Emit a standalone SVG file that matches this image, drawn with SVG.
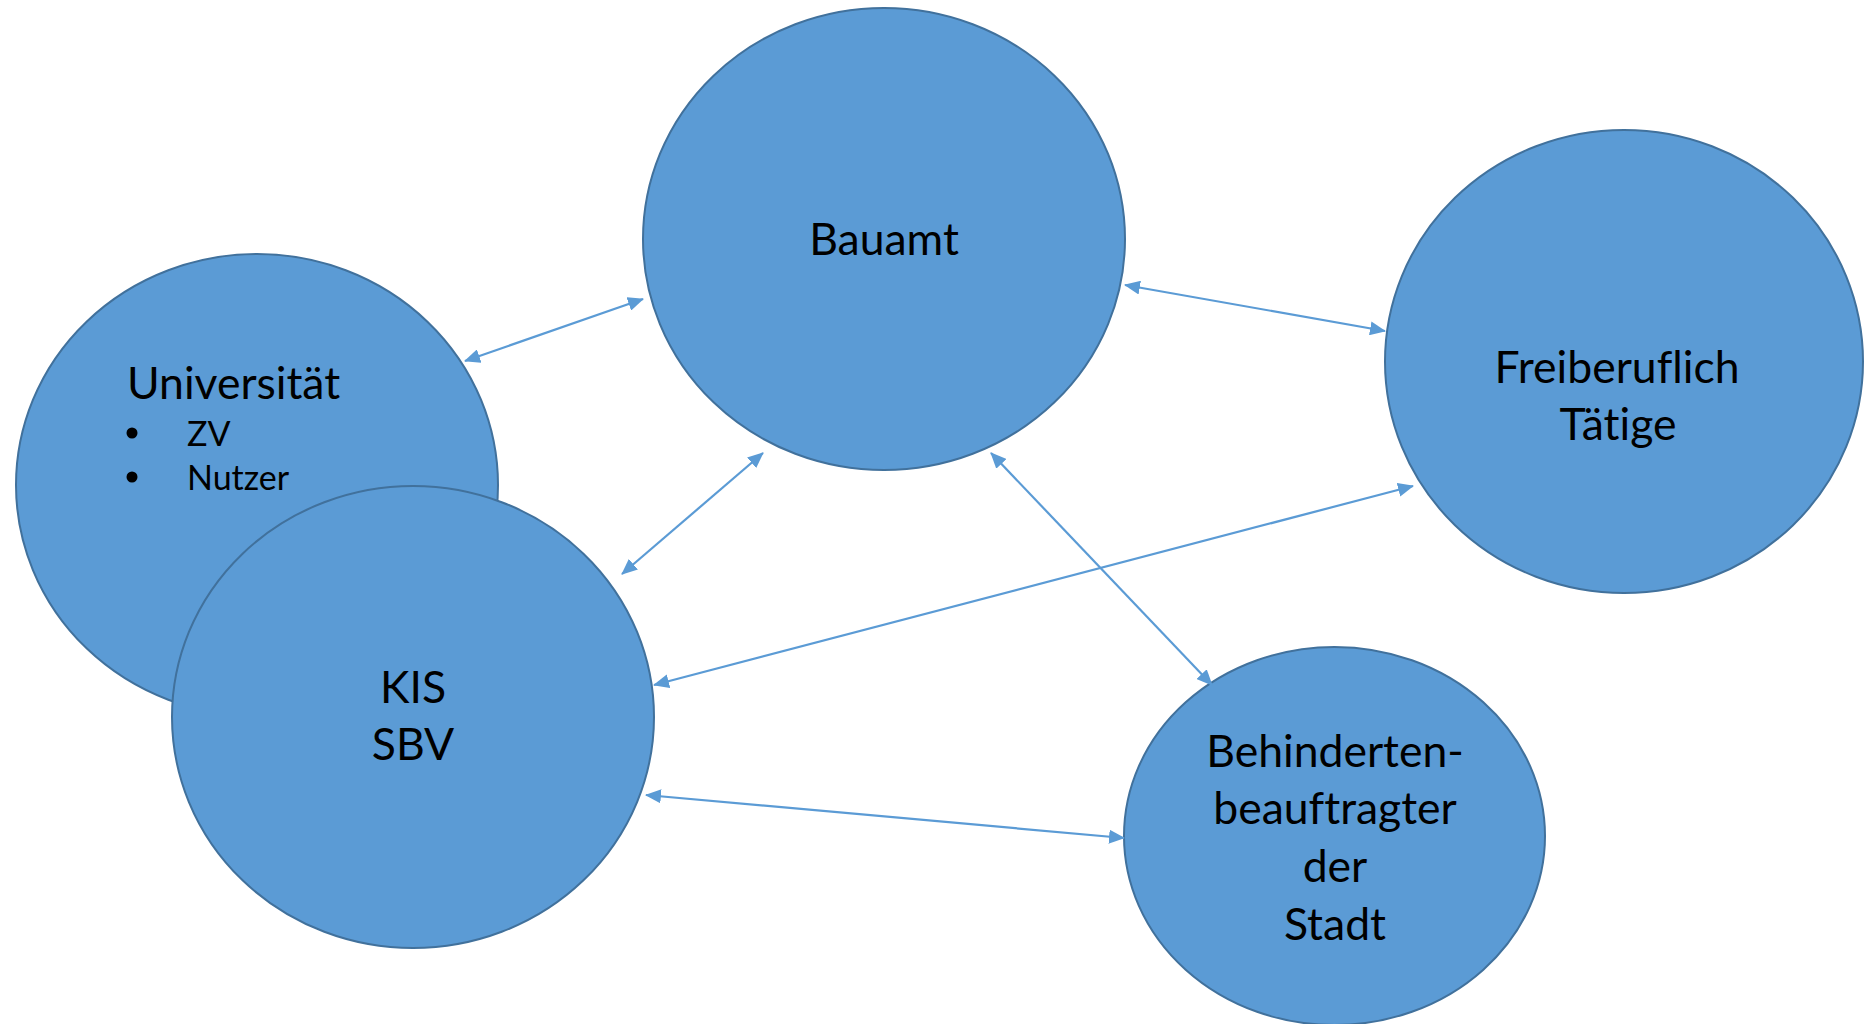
<svg xmlns="http://www.w3.org/2000/svg" width="1864" height="1024" viewBox="0 0 1864 1024">
<style>
.node{fill:#5B9BD5;stroke:#41719C;stroke-width:2}
.lbl{font-family:Lato,"Liberation Sans",sans-serif;font-size:44.5px;fill:#000;text-anchor:middle;font-variant-ligatures:none}
.sub{font-family:Lato,"Liberation Sans",sans-serif;font-size:34px;fill:#000;font-variant-ligatures:none}
.conn{stroke:#5B9BD5;stroke-width:2.2;fill:none;marker-start:url(#arr);marker-end:url(#arr)}
</style>
<defs>
<marker id="arr" viewBox="0 0 16 14" refX="15" refY="7" markerWidth="16" markerHeight="14" markerUnits="userSpaceOnUse" orient="auto-start-reverse">
<path d="M0,0 L16,7 L0,14 z" fill="#5B9BD5"/>
</marker>
</defs>
<rect width="1864" height="1024" fill="#fff"/>
<g id="bauamt">
<ellipse class="node" cx="884" cy="239" rx="241" ry="231"/>
<text class="lbl" x="884" y="255">Bauamt</text>
</g>
<g id="universitaet">
<ellipse class="node" cx="257" cy="485" rx="241" ry="231"/>
<text class="lbl" x="127" y="399" style="text-anchor:start">Universität</text>
<circle cx="132" cy="433" r="5.5" fill="#000"/>
<circle cx="132" cy="477" r="5.5" fill="#000"/>
<text class="sub" x="187" y="446">ZV</text>
<text class="sub" x="187" y="490">Nutzer</text>
</g>
<g id="kis">
<ellipse class="node" cx="413" cy="717" rx="241" ry="231"/>
<text class="lbl" x="413" y="703">KIS</text>
<text class="lbl" x="413" y="760">SBV</text>
</g>
<g id="freiberuflich">
<ellipse class="node" cx="1624" cy="361.5" rx="239" ry="231.5"/>
<text class="lbl" x="1617" y="383">Freiberuflich</text>
<text class="lbl" x="1618" y="440">Tätige</text>
</g>
<g id="behinderten">
<ellipse class="node" cx="1334.5" cy="836" rx="210.5" ry="189"/>
<text class="lbl" x="1335" y="767">Behinderten-</text>
<text class="lbl" x="1335" y="824">beauftragter</text>
<text class="lbl" x="1335" y="882">der</text>
<text class="lbl" x="1335" y="940">Stadt</text>
</g>
<g id="connectors">
<line class="conn" x1="465" y1="361" x2="643" y2="299"/>
<line class="conn" x1="1125" y1="285" x2="1385" y2="331"/>
<line class="conn" x1="622" y1="574" x2="763" y2="453"/>
<line class="conn" x1="991" y1="453" x2="1212" y2="685"/>
<line class="conn" x1="654" y1="685" x2="1413" y2="486"/>
<line class="conn" x1="646" y1="795" x2="1124" y2="838"/>
</g>
</svg>
